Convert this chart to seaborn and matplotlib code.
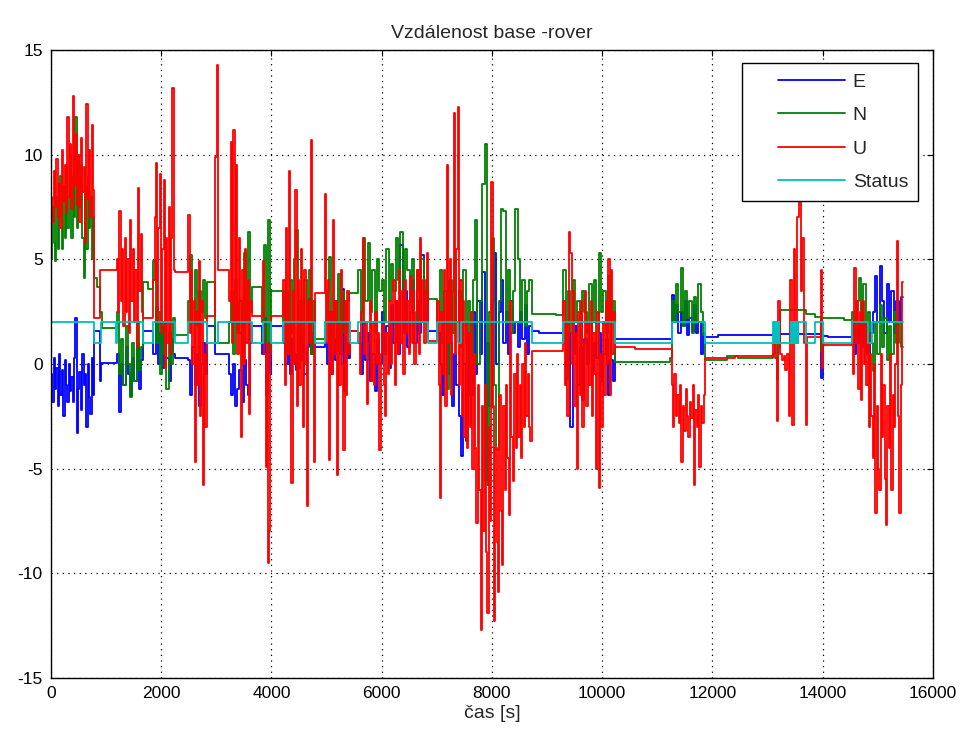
import numpy as np
import pandas as pd
import matplotlib
matplotlib.use("Agg")
import matplotlib.pyplot as plt
import seaborn as sns
from matplotlib.lines import Line2D
from matplotlib.legend_handler import HandlerLine2D

# each series: list of (start time [s], values); the values share the
# time span evenly up to the start of the next segment
U_SEGMENTS = [
    (0, [8.0, 6.8, 9.2, 7.5, 9.8, 7.0, 8.6, 6.5, 10.2, 7.8, 9.5, 7.2, 11.8, 8.0, 10.5, 7.4,
         12.8, 8.5, 11.0, 7.6, 10.0, 6.8, 10.8, 8.2, 9.4, 5.8, 12.4, 7.9, 10.2, 7.0, 11.4, 8.3]),
    (787, [2.2]),
    (890, [4.5]),
    (1190, [5.0, 2.5, 7.3, 3.0, 5.5, 1.8, 6.0, 2.5, 5.0, 1.5, 6.9, 3.0, 5.5, 2.0, 4.5, 0.8,
            8.4, 3.5, 6.2, 2.5]),
    (1676, [2.2]),
    (1857, [4.0, 7.0, 9.6, 2.0, 6.5, 9.1, 1.5, 5.5, 8.8, -0.2, 6.0, 1.0, 7.5, 0.5, 6.0, 13.2, 4.5]),
    (2250, [4.4]),
    (2493, [7.1, 1.5, 4.5, 0.0, 3.0, -4.7, 2.5, -1.0, 4.9, -2.5, 3.0, -5.8, 0.5, -3.0]),
    (2824, [2.3]),
    (2975, [9.9, 14.3]),
    (3030, [4.5]),
    (3235, [3.0, 10.6, 1.0, 11.2, 2.0, 9.5, 0.5, 6.0, 1.5, -3.5, 4.5, 0.0, 5.5, 1.0, 4.0, -2.4, 3.0]),
    (3640, [2.3]),
    (3850, [4.9, 0.5, -4.9, 1.0, -9.5, -8.0, 0.5]),
    (4000, [2.3]),
    (4215, [4.0, -1.0, 6.5, 0.5, 9.2, 2.0, -5.7, 3.5, 0.0, 8.3, -2.0, 4.0, -1.0, 5.5, 0.5, -3.0,
            4.5, 0.0, -6.8, 3.0, 1.0, 10.7, 2.0, -4.7]),
    (4790, [3.4]),
    (4970, [8.1, 1.0, 4.0, -4.6, 2.5, -0.5, 6.9, 0.5, 3.0, -5.3, 2.0, -1.0, 4.5, 0.0, -4.1, 3.0,
            -1.5, 3.5, 0.5]),
    (5425, [1.6]),
    (5575, [1.5, -0.5, 2.5, 6.0, 0.5, 2.0, -1.9, 1.0, 3.0, -0.8, 2.0, -1.0, 2.5, 0.0, 1.5, -4.1,
            0.5, 2.0, -1.0, -2.5, 1.5, -0.5, 3.0, 0.0, 2.0, 4.0, -1.0, 3.0, 0.5, 4.5, 1.0, 3.5,
            -0.5, 4.0, 1.5, 3.0, 0.5, 4.2, 1.0, 3.5, 0.0, 2.5, 4.5, 0.5, 6.0, 2.0, 4.0, 1.0,
            3.5, 5.3]),
    (6846, [1.1]),
    (7010, [3.0, -1.0, -6.4, 2.5, -0.5, 4.5, -2.0, 9.5, 1.0, 5.0, -1.5, 3.5, 12.0, 0.5, 5.5,
            12.3, -1.0, 4.0, -2.5, 3.0, -3.5, 2.0, -4.0, 1.5, -3.0, 2.5, -5.0, 0.5, -4.0, -7.6,
            -1.0, -6.0, -12.7, -2.0, -8.0, -1.0, -9.0, -11.9, -3.0, -7.5, 8.7, -2.0, -12.3,
            -4.0, -8.5, -10.9, -1.5, -7.0, -9.6, -2.0, -6.0, -1.0, -4.5, -7.2, 3.0, -3.5, -5.6,
            -0.5, -4.0, 0.5, -3.5, -1.0, -4.5, 0.0, -3.0, 1.0, -2.5, -0.5, -3.0, -3.7]),
    (8720, [0.6]),
    (9295, [3.0, -1.0, 2.0, -2.5, 6.3, 5.3, 0.0, 3.5, -2.0, 1.5, -5.0, 2.5, -1.5, 3.0, -3.0, 1.0,
            3.5, -2.0, 2.0, -1.0, 3.0, -2.5, 1.5, -0.5, -5.0, 2.5, -5.9, 0.5, -3.0, 2.0, -1.5,
            3.0, 0.0, 5.0, -1.5, 4.5, 0.5, 2.5]),
    (10232, [0.8]),
    (10600, [0.7]),
    (11260, [-1.0, -3.0, -0.5, -2.5, -1.5, -2.8, -1.0, -4.7, -2.0, -3.2, -1.2, -2.5, -3.5, -1.8,
             -2.6, -1.0, -5.8, -2.2, -3.0, -1.5, -4.9, -2.0, -2.8, -1.5]),
    (11865, [0.3]),
    (12400, [0.4]),
    (13105, [1.0, 0.3, -2.7, 3.0, 0.5, 0.2, 0.4, -0.3, 0.5, -2.5, 4.0, -2.9, 5.5, 2.0,
             7.0, 7.9, 3.5, 6.0, 1.0, -2.9]),
    (13720, [1.3]),
    (13960, [4.5, -0.2]),
    (14010, [0.9]),
    (14525, [2.0, -0.5, 4.6, 1.0, 3.0, -1.2, 2.5, -1.7, 3.0, 0.0, 2.0, -1.0, 1.5, -3.0, 0.5,
             -2.5, -4.5, 0.0, -7.1, -2.0, -5.0, -6.0, 0.5, -3.5, -1.0, -5.5, -7.7, -2.0, -4.0,
             0.5, -6.0, -1.5, -3.0, 0.0, 5.9, -2.5, -7.1, -1.0, 3.9]),
]

N_SEGMENTS = [
    (0, [5.0, 7.5, 5.8, 4.9, 8.0, 5.5, 7.0, 9.0, 5.5, 8.5, 6.0, 9.5, 6.5, 8.0, 10.0, 6.0,
         9.0, 7.0, 11.8, 6.5, 10.0, 7.5, 9.5, 6.0, 4.1, 8.5, 5.5, 9.0, 6.5, 8.0, 5.0, 7.0]),
    (787, [4.1, 3.7]),
    (890, [2.5]),
    (930, [1.7]),
    (1190, [2.5, -0.5, 1.2, -1.0, 1.8, 0.0, -1.6, 1.0, -0.8, 2.0, -0.3, 0.8]),
    (1676, [3.9, 3.6]),
    (1857, [4.9, 1.0, 2.5, -0.5, 2.0, 0.5, -1.2, 1.5, 0.0, 2.2]),
    (2250, [1.4]),
    (2493, [3.0, 5.2, 2.0, 4.5, 1.8, 3.5, 2.5, 4.0, 2.2]),
    (2824, [3.9]),
    (2975, [1.0]),
    (3235, [2.0, 3.5, 0.5, 4.0, 1.5, 3.0, 0.0, 5.3, 2.0, 6.3, 2.5]),
    (3640, [3.7]),
    (3820, [2.0, 5.7, 1.0, 6.9, 0.6]),
    (4000, [3.5]),
    (4215, [2.0, 3.5, 0.5, 4.0, 1.5, 5.0, 6.4, -0.2, 3.0, 1.0, 4.0, 2.0, 4.5, 0.5, 3.0]),
    (4790, [1.2]),
    (4970, [2.0, 3.5, 5.1, 1.0, 3.0, 2.0, 4.3, 0.6, 3.5, 1.5, 3.0]),
    (5400, [3.4]),
    (5575, [4.5, 2.0, 6.0, 3.0, 5.8, 2.5, 4.5, 1.5, 5.0, 3.5, 4.0, 2.0, 5.5, 3.0, 4.8,
            3.5, 6.0, 4.0, 6.3, 3.0, 5.5, 4.5, 3.0, 5.0, 2.0, 4.5, 3.5, 5.0, 2.5, 4.0]),
    (6846, [3.1]),
    (7010, [2.0, 4.5, 1.0, 3.5, -1.2, 4.0, 1.5, 5.0, 2.0, 3.5, 0.8, 4.5, 1.0, 3.0, -0.5,
            4.0, 6.9, 0.0, 3.0, 8.6, 10.5, -5.8, 2.5, 6.0, -1.0, -4.1, 3.0, 7.4, 7.3,
            2.0, 4.5, 1.5, 3.5, 7.4, 5.0, 2.0, 4.0, 1.8, 3.5, 4.0]),
    (8720, [2.4]),
    (9170, [2.35]),
    (9295, [4.5, -0.7, 3.5, 1.5, 4.0, 2.0, 3.0, 1.0, 3.5, 2.5, 1.5, 3.8, 2.0, 4.0, 1.0,
            5.3, 2.5, 3.5, 1.5, 4.2, 2.0, 3.0]),
    (10232, [0.1]),
    (11230, [0.3]),
    (11260, [3.0, 2.0, 3.8, 2.5, 4.6, 1.8, 3.5, 2.2, 3.0, 1.5, 3.2, 2.0, 3.8, 2.5, 1.4]),
    (11865, [0.2]),
    (12260, [0.4]),
    (12470, [0.3]),
    (13105, [0.5, 1.5, -0.7, 0.8]),
    (13225, [2.6]),
    (13700, [2.4]),
    (13860, [2.25]),
    (13970, [0.6]),
    (13990, [2.2]),
    (14380, [2.1]),
    (14525, [2.5, 1.0, 3.0, 4.1, 1.5, 3.8, 0.5, 2.5, 1.0, -0.35, 2.0, 0.5, 2.8, 0.8,
             2.2, 0.2, 1.8, 0.5, 2.5, 1.0, 2.0, 0.8]),
]

E_SEGMENTS = [
    (0, [-0.5, -1.8, 0.3, -1.2, -0.2, -2.0, 0.5, -1.5, -0.3, -2.5, 0.2, -1.0, -1.8, 0.0,
         -1.3, -0.6, -1.8, 0.3, 2.2, -3.3, -1.2, -0.4, -2.2, 0.5, -1.0, -0.5, -3.0, 0.0,
         -1.6, -2.4, 0.3, -1.5]),
    (787, [1.6]),
    (890, [-0.8]),
    (910, [0.05]),
    (1190, [0.5, -2.3, 0.0, -1.0, 0.8, -0.5, -1.5, 0.3, -0.8, 1.0, -1.2, 0.2]),
    (1676, [1.6]),
    (1857, [0.5, 2.7, 0.0, 1.5, -0.2, 1.8, 0.3, -0.8, 1.2, 0.5]),
    (2250, [0.3]),
    (2493, [0.2, -1.5, 0.8, -1.0, 0.5, -2.0, 0.0, 1.0, -0.5]),
    (2824, [1.8]),
    (2975, [0.5]),
    (3235, [-0.5, -1.5, 0.0, -2.0, -1.2, -0.3, -1.8, 0.2, -1.0, -1.5, 1.0]),
    (3640, [1.8]),
    (3820, [0.5, 2.2, -1.5, 1.0, -0.5]),
    (4000, [1.8]),
    (4215, [1.0, 0.0, 1.8, -0.5, 1.2, 0.5, -0.3, 1.5, 0.2, 1.0, -0.5, 0.8, 3.1, 0.5, 1.5]),
    (4790, [0.8]),
    (4970, [1.0, 0.0, 1.8, -0.5, 1.2, 0.2, 1.5, 0.5, 3.6, -1.3, 1.0, 0.3]),
    (5425, [1.6]),
    (5575, [1.0, -0.5, 2.0, 0.2, 1.5, -0.8, 0.5, -1.3, 1.2, 0.0, 2.5, 0.5, 1.8, -0.2,
            2.8, 1.0, 3.0, 0.5, 5.7, 1.5, 3.5, 0.8, 2.5, 4.0, 1.0, 3.0, 1.5, 5.2, 2.0, 3.5]),
    (6846, [1.6]),
    (7010, [1.5, 0.0, -1.5, 2.0, -0.5, 1.0, -2.0, 0.5, -1.0, -2.5, -4.4, 0.0, -3.7, 1.5,
            -1.5, 2.5, -0.5, 3.0, 0.5, 4.4, -5.6, 1.0, -2.0, 3.0, 5.3, 0.0, 2.5, 4.0,
            1.0, 2.5, 0.5, 3.0, 1.5, 2.0, 0.8, 2.5, 1.2, 2.8, 0.5, 1.8]),
    (8720, [1.6]),
    (8850, [1.5]),
    (9295, [1.0, -0.5, 1.5, -3.0, 0.5, 1.8, -1.0, 0.8, -1.7, 1.2, 0.0, 2.0, -0.5, 1.0,
            0.3, 1.5, -0.8, 0.5, 1.2, -1.5, 0.2, -0.8]),
    (10232, [1.2]),
    (11260, [3.3, 2.0, 2.8, 1.5, 2.5, 1.8, 3.0, 1.4, 2.2, 1.6, 2.8, 1.5, 2.0, 0.5, 1.5]),
    (11865, [1.3]),
    (12100, [1.4]),
    (13105, [1.45]),
    (13960, [-0.65]),
    (14000, [1.35]),
    (14100, [1.3]),
    (14525, [1.5, 0.5, 2.0, 1.0, 2.5, 0.8, 1.8, 0.5, 1.5, 2.5, 4.2, 2.0, 4.7, 3.0, 1.5,
             3.8, 2.0, 3.5, 1.5, 3.0, 2.0, 3.2]),
]

STATUS_TIMES = [0, 787, 900, 1180, 1195, 1676, 1857, 2250, 2493, 2824, 3035, 3640,
                3850, 4000, 4215, 4790, 4970, 5425, 5575, 6846, 7010, 7380, 7430,
                8720, 9295, 10232, 11260, 11865,
                13105, 13115, 13125, 13135, 13145, 13155, 13165, 13175, 13185, 13195,
                13205, 13215, 13225,
                13420, 13430, 13440, 13450, 13460, 13470, 13480, 13490, 13500, 13510,
                13520, 13530, 13540, 13550, 13560,
                13700, 13860, 14000, 14525, 14830, 14890]
STATUS_VALUES = [2, 1, 2, 1, 2, 1, 2, 1, 2, 1, 2, 1,
                 2, 1, 2, 1, 2, 1, 2, 1, 2, 1, 2,
                 1, 2, 1, 2, 1,
                 2, 1, 2, 1, 2, 1, 2, 1, 2, 1,
                 2, 1, 1,
                 2, 1, 2, 1, 2, 1, 2, 1, 2, 1,
                 2, 1, 2, 1, 2,
                 1, 2, 1, 2, 1, 2]
T_END = 15460

SERIES = ["E", "N", "U", "Status"]
COLORS = {"E": "#0000ff", "N": "#008000", "U": "#ff0000", "Status": "#00bfbf"}


def expand(segments, t_end):
    times, values = [], []
    for i, (t0, vals) in enumerate(segments):
        t1 = segments[i + 1][0] if i + 1 < len(segments) else t_end
        step = (t1 - t0) / len(vals)
        for k, v in enumerate(vals):
            times.append(t0 + k * step)
            values.append(v)
    times.append(t_end)
    values.append(values[-1])
    return times, values


frames = []
for name, segs in [("E", E_SEGMENTS), ("N", N_SEGMENTS), ("U", U_SEGMENTS)]:
    t, v = expand(segs, T_END)
    frames.append(pd.DataFrame({"t": t, "value": v, "series": name}))
frames.append(pd.DataFrame({"t": STATUS_TIMES + [T_END],
                            "value": STATUS_VALUES + [STATUS_VALUES[-1]],
                            "series": "Status"}))
df = pd.concat(frames, ignore_index=True)

sns.set_style("white")
plt.rcParams["font.family"] = ["Liberation Sans", "DejaVu Sans"]
plt.rcParams["axes.unicode_minus"] = False

fig = plt.figure(figsize=(9.66, 7.40), dpi=100)
ax = fig.add_axes([0.0528, 0.0838, 0.9130, 0.8486])

for name in SERIES:
    sub = df[df["series"] == name]
    sns.lineplot(data=sub, x="t", y="value", color=COLORS[name], ax=ax,
                 estimator=None, sort=False, drawstyle="steps-post",
                 linewidth=1.3, label=name)

ax.set_xlim(0, 16000)
ax.set_ylim(-15, 15)
ax.set_xticks(np.arange(0, 16001, 2000))
ax.set_yticks(np.arange(-15, 16, 5))
ax.grid(True, color="black", linestyle=(0, (1, 3.5)), linewidth=0.9)
ax.set_axisbelow(True)
ax.tick_params(direction="in", top=True, right=True, length=4, width=0.8,
               labelsize=12.5, colors="black", pad=6)
for sp in ax.spines.values():
    sp.set_color("black")
    sp.set_linewidth(1.0)

ax.set_title("Vzdálenost base -rover", fontsize=14, pad=9)
ax.set_xlabel("čas [s]", fontsize=14, labelpad=3)
ax.set_ylabel("")

leg = ax.legend(loc="upper right", bbox_to_anchor=(0.983, 0.979), borderaxespad=0,
                fontsize=14, handlelength=4.8, handletextpad=0.4, labelspacing=0.82,
                fancybox=False, framealpha=1, edgecolor="black", borderpad=0.5,
                handler_map={Line2D: HandlerLine2D(xpad=1.35)})
leg.get_frame().set_linewidth(1.0)
for line in leg.get_lines():
    line.set_linewidth(1.3)

fig.savefig("out.png", dpi=100)
